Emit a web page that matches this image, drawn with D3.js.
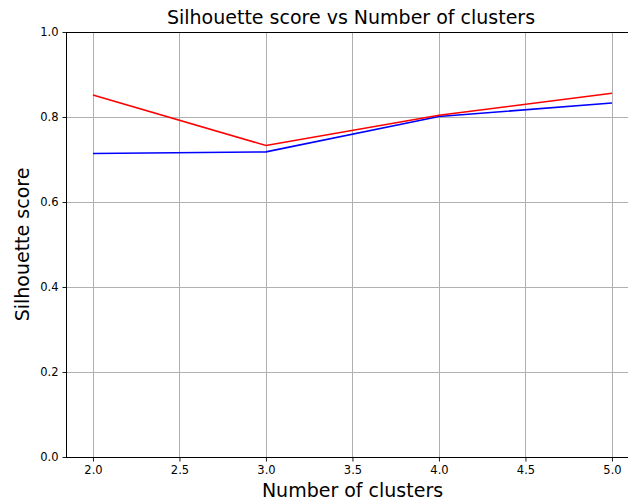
<!DOCTYPE html>
<html><head><meta charset="utf-8">
<script src="https://cdn.jsdelivr.net/npm/d3@7"></script>
<style>body{margin:0;background:#fff}svg{display:block}text{font-family:"DejaVu Sans",sans-serif}</style>
</head><body><svg id="c" width="628" height="503"></svg>
<script>
const clusters = [2, 3, 4, 5];
const redScores = [0.852, 0.733, 0.804, 0.856];
const blueScores = [0.714, 0.718, 0.801, 0.833];
const xTicks = [2.0, 2.5, 3.0, 3.5, 4.0, 4.5, 5.0];
const yTicks = [0.0, 0.2, 0.4, 0.6, 0.8, 1.0];

(function () {
const svg = d3.select("#c");
const pLeft = 67, pTop = 32, pBottom = 457;
const x = d3.scaleLinear().domain([1.85, 5.15]).range([pLeft, pLeft + 3.3 * 173]);
const y = d3.scaleLinear().domain([0, 1]).range([pBottom, pTop]);
const pRight = x(5.15);

const g = svg.append("g");
g.selectAll(".vg").data(xTicks).enter().append("line")
  .attr("x1", d => Math.round(x(d)) + 0.5).attr("x2", d => Math.round(x(d)) + 0.5)
  .attr("y1", pTop).attr("y2", pBottom).attr("stroke", "#b0b0b0").attr("stroke-width", 1);
g.selectAll(".hg").data(yTicks).enter().append("line")
  .attr("y1", d => Math.round(y(d)) + 0.5).attr("y2", d => Math.round(y(d)) + 0.5)
  .attr("x1", pLeft).attr("x2", pRight).attr("stroke", "#b0b0b0").attr("stroke-width", 1);

const line = (vals) => d3.line().x((d, i) => x(clusters[i])).y(d => y(d))(vals);
g.append("path").attr("d", line(blueScores)).attr("fill", "none").attr("stroke", "#0000ff").attr("stroke-width", 1.6);
g.append("path").attr("d", line(redScores)).attr("fill", "none").attr("stroke", "#ff0000").attr("stroke-width", 1.6);

const xAxis = d3.axisBottom(x).tickValues(xTicks).tickFormat(d3.format(".1f")).tickSize(4).tickPadding(4);
const yAxis = d3.axisLeft(y).tickValues(yTicks).tickFormat(d3.format(".1f")).tickSize(4).tickPadding(4);
const gx = svg.append("g").attr("transform", `translate(0,${pBottom + 0.5})`).call(xAxis);
const gy = svg.append("g").attr("transform", `translate(${pLeft - 0.5},0)`).call(yAxis);
[gx, gy].forEach(a => {
  a.select(".domain").remove();
  a.selectAll(".tick line").attr("stroke", "#000").attr("stroke-width", 0.9);
  a.selectAll("text").attr("font-size", "11.5px").attr("fill", "#000").style("font-family", "DejaVu Sans");
});
svg.append("line").attr("x1", pLeft - 0.5).attr("x2", pLeft - 0.5).attr("y1", pTop).attr("y2", pBottom + 1).attr("stroke", "#000").attr("stroke-width", 1);
svg.append("line").attr("x1", pLeft - 1).attr("x2", pRight).attr("y1", pBottom + 0.5).attr("y2", pBottom + 0.5).attr("stroke", "#000").attr("stroke-width", 1);
svg.append("line").attr("x1", pLeft - 1).attr("x2", pRight).attr("y1", pTop + 0.5).attr("y2", pTop + 0.5).attr("stroke", "#000").attr("stroke-width", 1);

svg.append("text").attr("x", (166 + 536) / 2).attr("y", 24).attr("text-anchor", "middle")
  .attr("font-size", "19px").attr("fill", "#000").text("Silhouette score vs Number of clusters");
svg.append("text").attr("x", (262 + 443) / 2).attr("y", 497).attr("text-anchor", "middle")
  .attr("font-size", "19px").attr("fill", "#000").text("Number of clusters");
svg.append("text").attr("transform", `translate(29,${(pTop + pBottom) / 2}) rotate(-90)`).attr("text-anchor", "middle")
  .attr("font-size", "19px").attr("fill", "#000").text("Silhouette score");
})();
</script></body></html>
